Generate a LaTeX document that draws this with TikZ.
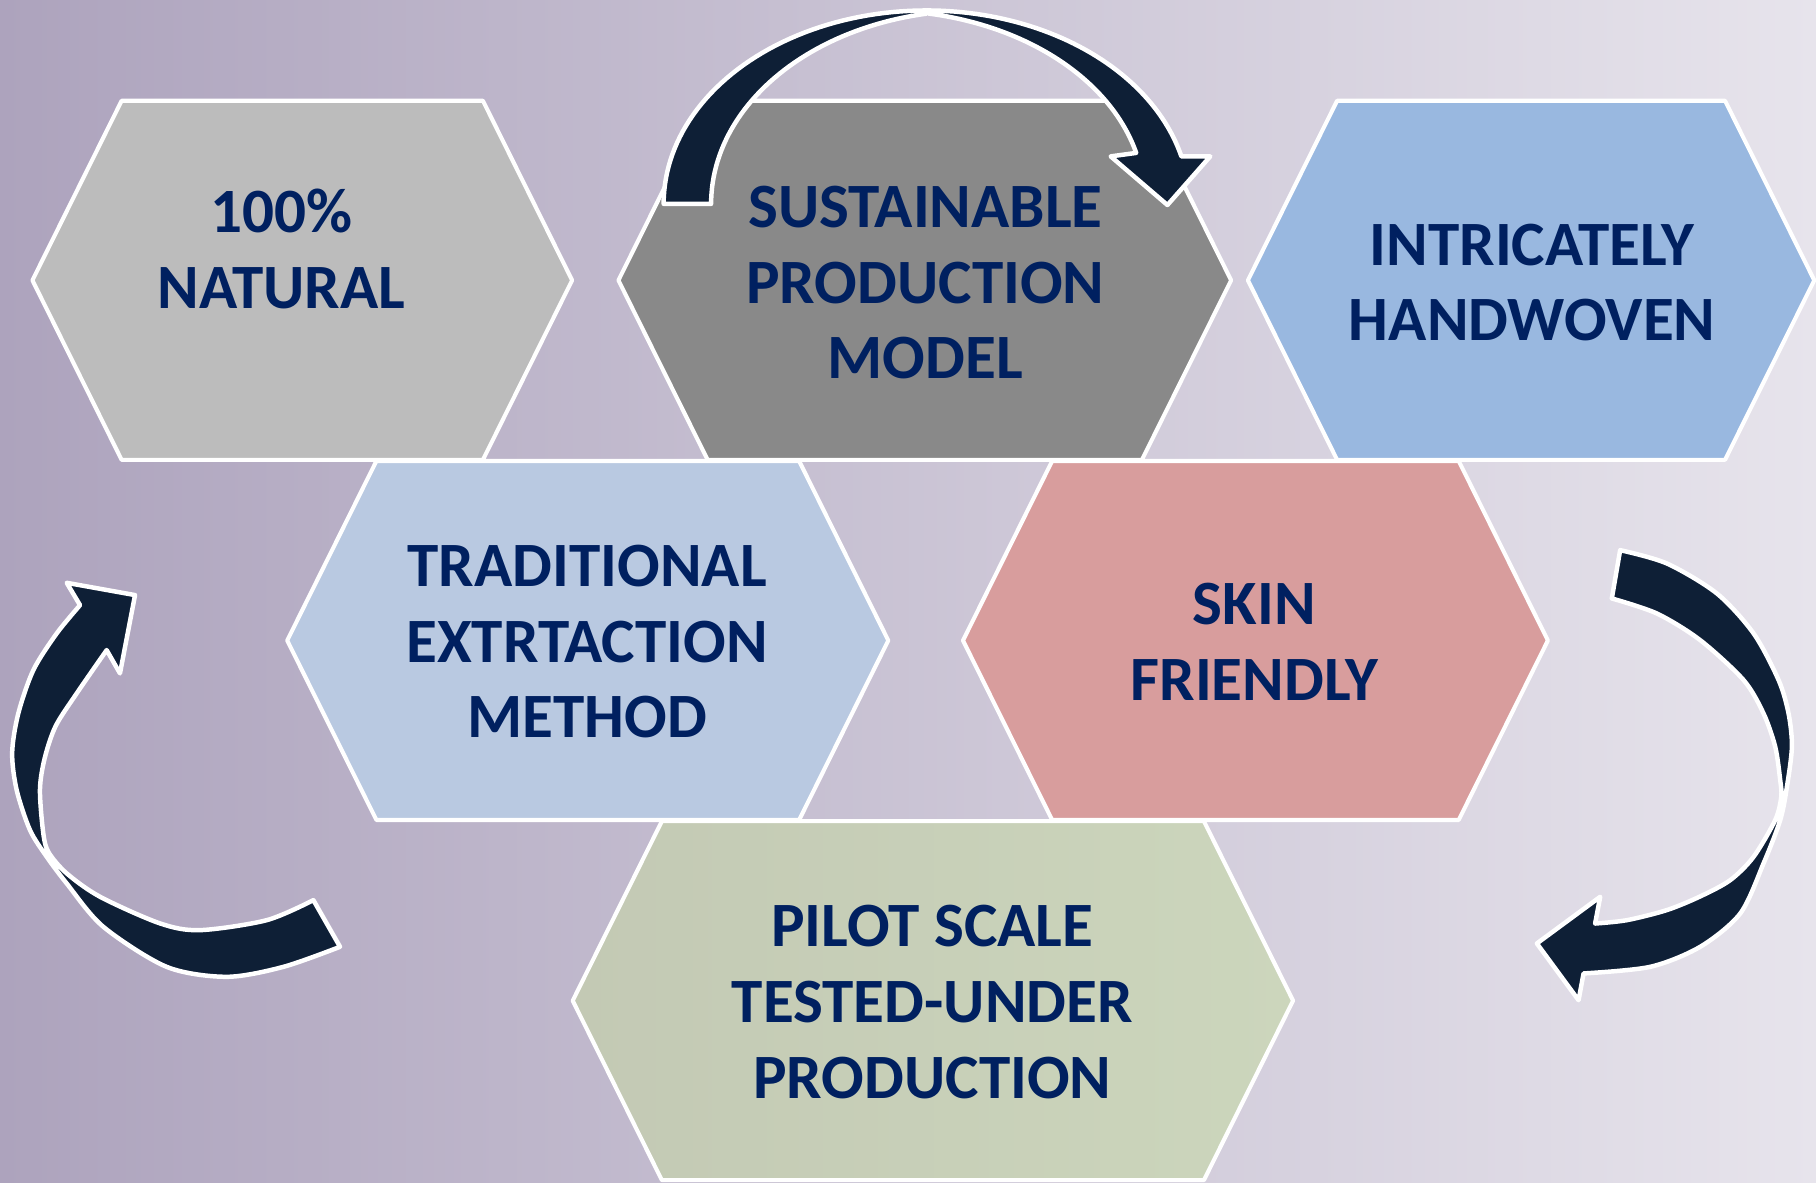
\documentclass[tikz,border=0pt]{standalone}
\usepackage{fontspec}
\setmainfont{Carlito}
\definecolor{bgL}{RGB}{173,163,189}
\definecolor{bgR}{RGB}{231,228,236}
\definecolor{hexA}{RGB}{188,188,188}
\definecolor{hexB}{RGB}{137,137,137}
\definecolor{hexC}{RGB}{153,184,224}
\definecolor{hexD}{RGB}{185,201,225}
\definecolor{hexE}{RGB}{216,157,157}
\definecolor{hexFL}{RGB}{195,201,180}
\definecolor{hexFR}{RGB}{204,214,188}
\definecolor{txtblue}{RGB}{0,32,96}
\definecolor{arrowc}{RGB}{14,31,54}
\newcommand{\hexa}[4]{%
  \draw[hexline,#4] ({#1-#3},{#2}) -- ({#1-#3+77},{#2-155}) -- ({#1+#3-77},{#2-155})
    -- ({#1+#3},{#2}) -- ({#1+#3-77},{#2+155}) -- ({#1-#3+77},{#2+155}) -- cycle;}
\begin{document}
\begin{tikzpicture}[x=0.01cm,y=-0.01cm,
  hexline/.style={draw=white,line width=1pt,line join=round},
  lbl/.style={text=txtblue,font=\bfseries\fontsize{15.5}{18.6}\selectfont,align=center,inner sep=0pt},
  band/.style={fill=arrowc,draw=white,line width=1.1pt,line join=round}]
\useasboundingbox (0,0) rectangle (1568,1020.6);
\shade[left color=bgL,right color=bgR] (0,0) rectangle (1568,1020.6);

% hexagons
\hexa{261}{242}{233}{fill=hexA}
\hexa{798.5}{242}{264.5}{fill=hexB}
\hexa{1322}{242}{244.5}{fill=hexC}
\hexa{507.5}{553}{259.5}{fill=hexD}
\hexa{1084}{553}{252.5}{fill=hexE}
\hexa{805.5}{864}{311}{left color=hexFL,right color=hexFR}

% labels
\node[lbl] (natural) at (243,215) {100\%\\NATURAL};
\node[lbl] (sustain) at (799,244) {SUSTAINABLE\\PRODUCTION\\MODEL};
\node[lbl] (handwoven) at (1323,244) {INTRICATELY\\HANDWOVEN};
\node[lbl] (tradition) at (507,554) {TRADITIONAL\\EXTRTACTION\\METHOD};
\node[lbl] (skin) at (1083,554) {SKIN\\FRIENDLY};
\node[lbl] (pilot) at (805,865) {PILOT SCALE\\TESTED-UNDER\\PRODUCTION};

% top curved arrow
\draw[band] plot[domain=180:270,samples=50] ({800+227*cos(\x)},{176+167*sin(\x)})
  -- plot[domain=259.6:180,samples=50] ({841+227*cos(\x)},{176+167*sin(\x)}) -- cycle;
\draw[band] plot[domain=270:345.8,samples=50] ({800+227*cos(\x)},{176+167*sin(\x)})
  -- (1045,135) -- (1008,177) -- (959,135)
  -- plot[domain=345.8:280.4,samples=50] ({761+227*cos(\x)},{172+163*sin(\x)}) -- cycle;

% left curved arrow
\draw[band] plot[smooth] coordinates {(293.6,817.5) (244.7,834.8) (195.7,843.4) (143.9,834.8) (89.2,800.2) (57.6,762.8) (40.3,739.7) (25.9,716.7) (14.4,682.2) (10.5,650) (15.8,616) (28.8,578.6) (48.9,547) (69.1,522.5)}
  -- (57.6,503.2) -- (116.6,513.8) -- (103.6,581.4)
  -- plot[smooth] coordinates {(92.1,561.3) (66.2,598.7) (48,627) (38.5,655) (34.5,682) (37.4,719.6) (42,736) (57.6,754.1) (86.4,774.3) (138.2,797.3) (172.7,803.1) (230.3,794.5) (270.6,777.2)} -- cycle;

% right curved arrow
\draw[band] plot[smooth] coordinates {(1398.9,475) (1439.2,486.5) (1482.4,512.4) (1514.1,546.9) (1535.7,587.2) (1544.3,616) (1547.2,644.8) (1542.9,679.3) (1537.1,708.1) (1522.7,745.5) (1502.6,788.7) (1468,817.5) (1424.8,834.8) (1367.3,840.5)}
  -- (1363,863.6) -- (1327,814.6) -- (1381.7,774.3)
  -- plot[smooth] coordinates {(1377.3,797.4) (1404.7,794.5) (1439.2,785.8) (1468,774) (1494,759.9) (1514.1,739.8) (1532.8,708) (1538,688) (1537.1,673.6) (1532.8,644.8) (1522.7,616) (1505.5,587.2) (1468,552.7) (1430.6,529.7) (1391.7,516.7)} -- cycle;
\end{tikzpicture}
\end{document}
